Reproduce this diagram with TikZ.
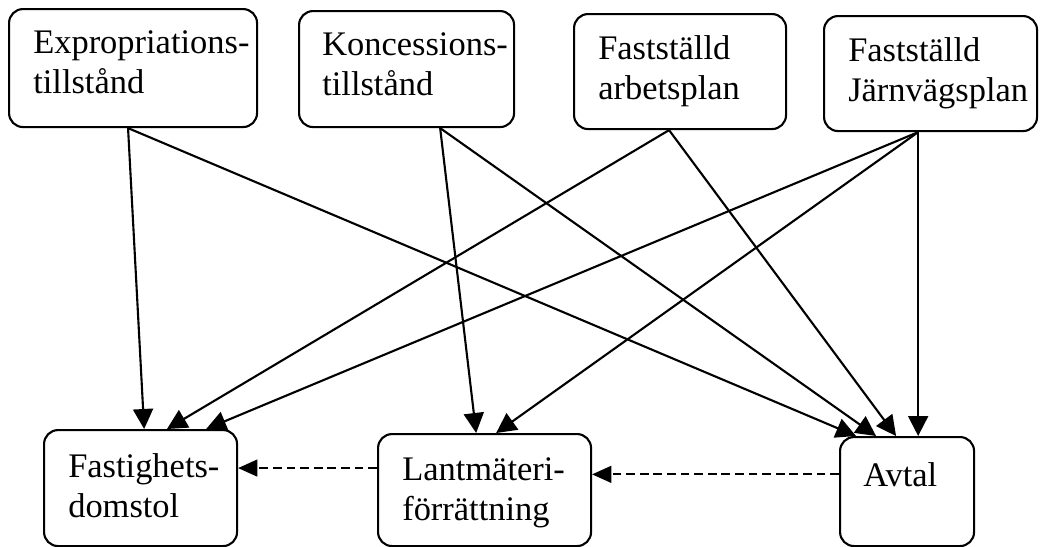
\documentclass[tikz,border=0pt]{standalone}
\usepackage{fontspec}
\setmainfont{Liberation Serif}
\usetikzlibrary{arrows.meta,positioning,calc}
\tikzset{
  ruta/.style={
    draw,
    rectangle,
    rounded corners=0.35cm,
    line width=1.5pt,
    inner sep=0pt,
    anchor=north west
  },
  rutatext/.style={
    anchor=north west,
    align=left,
    inner sep=0pt,
    font=\fontsize{24.5}{28.5}\selectfont
  },
  flow/.style={-{Triangle[length=0.5cm,width=0.5cm]},line width=1.5pt},
  dashflow/.style={-{Triangle[length=0.48cm,width=0.42cm]},line width=1.3pt,
    dash pattern=on 0.22cm off 0.12cm}
}

\begin{document}
\begin{tikzpicture}[x=1cm,y=1cm]
\useasboundingbox (0,0) rectangle (26.05,-13.65);

% Tillstånd och planer (övre raden)
\node[ruta, minimum width=6.2cm, minimum height=2.95cm] (expro) at (0.2,-0.2) {};
\node[ruta, minimum width=5.375cm, minimum height=2.9cm] (konc) at (7.45,-0.25) {};
\node[ruta, minimum width=5.3cm, minimum height=2.875cm] (arbets) at (14.325,-0.325) {};
\node[ruta, minimum width=5.325cm, minimum height=2.875cm] (jarnv) at (20.575,-0.375) {};

% Förfaranden (nedre raden)
\node[ruta, minimum width=4.825cm, minimum height=2.9cm] (fastig) at (1.075,-10.725) {};
\node[ruta, minimum width=5.325cm, minimum height=2.8cm] (lant) at (9.425,-10.825) {};
\node[ruta, minimum width=3.35cm, minimum height=2.725cm] (avtal) at (20.975,-10.9) {};

% Texter, uppe till vänster i varje ruta
\node[rutatext] (exproT) at ([xshift=0.625cm,yshift=-0.55cm]expro.north west)
  {Expropriations-\\tillstånd};
\node[rutatext] (koncT) at ([xshift=0.6cm,yshift=-0.55cm]konc.north west)
  {Koncessions-\\tillstånd};
\node[rutatext] (arbetsT) at ([xshift=0.625cm,yshift=-0.55cm]arbets.north west)
  {Fastställd\\arbetsplan};
\node[rutatext] (jarnvT) at ([xshift=0.625cm,yshift=-0.55cm]jarnv.north west)
  {Fastställd\\Järnvägsplan};
\node[rutatext] (fastigT) at ([xshift=0.625cm,yshift=-0.6cm]fastig.north west)
  {Fastighets-\\domstol};
\node[rutatext] (lantT) at ([xshift=0.625cm,yshift=-0.6cm]lant.north west)
  {Lantmäteri-\\förrättning};
\node[rutatext] (avtalT) at ([xshift=0.6cm,yshift=-0.65cm]avtal.north west)
  {Avtal};

% Pilar från expropriationstillstånd
\draw[flow] ([xshift=-0.125cm]expro.south) -- ([xshift=0.09cm]fastig.north);
\draw[flow] ([xshift=-0.125cm]expro.south) -- ([xshift=-1.275cm]avtal.north);

% Pilar från koncessionstillstånd
\draw[flow] ([xshift=0.84cm]konc.south) -- ([xshift=-0.21cm]lant.north);
\draw[flow] ([xshift=0.84cm]konc.south) -- ([xshift=-0.775cm]avtal.north);

% Pilar från fastställd arbetsplan
\draw[flow] ([xshift=-0.275cm]arbets.south) -- ([xshift=0.66cm]fastig.north);
\draw[flow] ([xshift=-0.275cm]arbets.south) -- ([xshift=-0.275cm]avtal.north);

% Pilar från fastställd järnvägsplan
\draw[flow] ([xshift=-0.31cm]jarnv.south) -- ([xshift=1.64cm]fastig.north);
\draw[flow] ([xshift=-0.31cm]jarnv.south) -- ([xshift=0.29cm]lant.north);
\draw[flow] ([xshift=-0.31cm]jarnv.south) -- ([xshift=-0.31cm]jarnv.south |- avtal.north);

% Streckade pilar i nedre raden
\draw[dashflow] ([yshift=0.43cm]avtal.west) -- ([yshift=0.43cm]avtal.west -| lant.east);
\draw[dashflow] ([yshift=0.55cm]lant.west) -- ([yshift=0.55cm]lant.west -| fastig.east);

\end{tikzpicture}
\end{document}
